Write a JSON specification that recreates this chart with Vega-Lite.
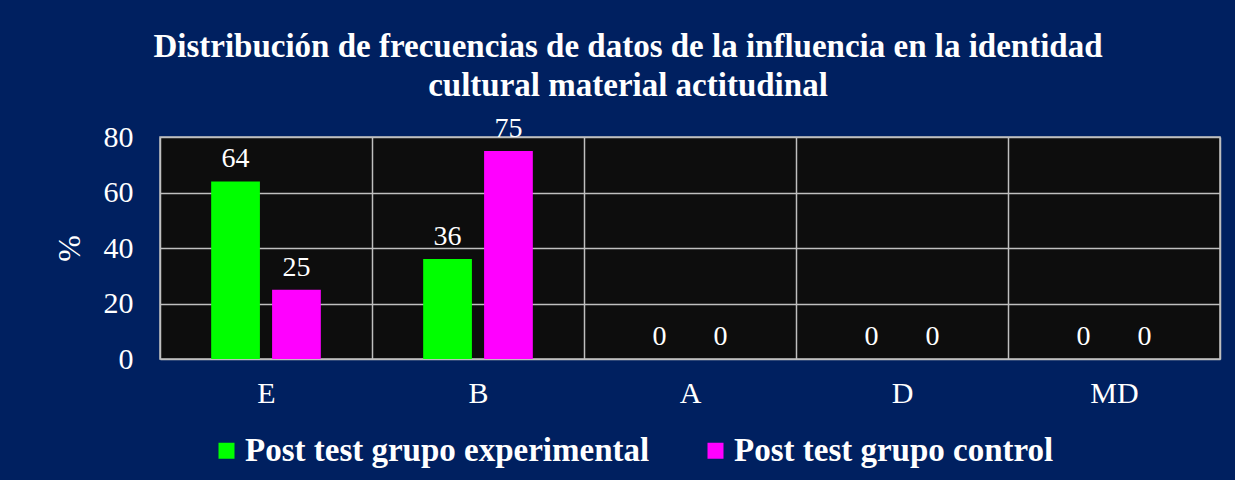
{
  "$schema": "https://vega.github.io/schema/vega-lite/v6.json",
  "width": 1060,
  "height": 222,
  "autosize": {"type": "none"},
  "padding": {"left": 160, "top": 137, "right": 15, "bottom": 121},
  "background": "#002060",
  "config": {
    "font": "Liberation Serif",
    "view": {"fill": "#0d0d0d", "stroke": "#bfbfbf", "strokeWidth": 1.5}
  },
  "title": {
    "text": ["Distribución de frecuencias de datos de la influencia en la identidad", "cultural material actitudinal"],
    "color": "white",
    "font": "Liberation Serif",
    "fontSize": 33,
    "fontWeight": "bold",
    "anchor": "middle",
    "frame": "group",
    "dx": -62,
    "offset": 12,
    "lineHeight": 39
  },
  "data": {
    "values": [
      {"cat": "E", "serie": "Post test grupo experimental", "pct": 64},
      {"cat": "E", "serie": "Post test grupo control", "pct": 25},
      {"cat": "B", "serie": "Post test grupo experimental", "pct": 36},
      {"cat": "B", "serie": "Post test grupo control", "pct": 75},
      {"cat": "A", "serie": "Post test grupo experimental", "pct": 0},
      {"cat": "A", "serie": "Post test grupo control", "pct": 0},
      {"cat": "D", "serie": "Post test grupo experimental", "pct": 0},
      {"cat": "D", "serie": "Post test grupo control", "pct": 0},
      {"cat": "MD", "serie": "Post test grupo experimental", "pct": 0},
      {"cat": "MD", "serie": "Post test grupo control", "pct": 0}
    ]
  },
  "encoding": {
    "x": {
      "field": "cat", "type": "nominal", "sort": ["E", "B", "A", "D", "MD"],
      "scale": {"paddingInner": 0, "paddingOuter": 0},
      "axis": {"title": null, "labelAngle": 0, "labelColor": "white", "labelFontSize": 30, "labelFont": "Liberation Serif",
        "labelPadding": 19, "ticks": false, "domain": false, "grid": true, "gridColor": "#bfbfbf", "gridWidth": 1.5, "tickBand": "extent"}
    },
    "xOffset": {
      "field": "serie", "type": "nominal", "sort": ["Post test grupo experimental", "Post test grupo control"],
      "scale": {"paddingInner": 0.2, "paddingOuter": 0.84}
    },
    "y": {
      "field": "pct", "type": "quantitative", "scale": {"domain": [0, 80]},
      "axis": {"title": "%", "values": [0, 20, 40, 60, 80], "domain": false, "ticks": false, "grid": true, "gridColor": "#bfbfbf", "gridWidth": 1.5,
        "labelColor": "white", "labelFontSize": 30, "labelFont": "Liberation Serif", "labelPadding": 27,
        "titleColor": "white", "titleFontSize": 32, "titleFont": "Liberation Serif", "titleFontWeight": "normal", "titlePadding": 17}
    }
  },
  "layer": [
    {
      "mark": {"type": "bar"},
      "encoding": {
        "color": {
          "field": "serie", "type": "nominal",
          "scale": {"domain": ["Post test grupo experimental", "Post test grupo control"], "range": ["#00ff00", "#ff00ff"]},
          "legend": {"orient": "none", "legendX": 50, "legendY": 297, "padding": 0, "direction": "horizontal", "title": null, "labelColor": "white", "labelFontSize": 33,
            "labelFont": "Liberation Serif", "labelFontWeight": "bold", "symbolType": "square", "symbolSize": 256,
            "symbolOpacity": 1, "symbolStrokeWidth": 0, "columnPadding": 49, "labelLimit": 600, "labelOffset": 2}
        }
      }
    },
    {
      "mark": {"type": "text", "baseline": "bottom", "dy": -8, "fontSize": 28, "color": "white", "font": "Liberation Serif"},
      "encoding": {"text": {"field": "pct", "type": "quantitative"}}
    }
  ]
}
